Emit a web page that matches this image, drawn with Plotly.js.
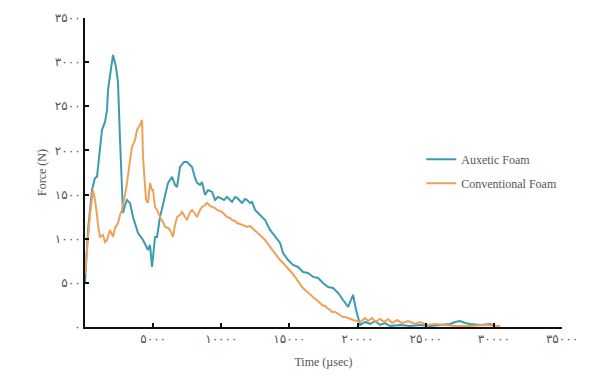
<!DOCTYPE html>
<html>
<head>
<meta charset="utf-8">
<script src="https://cdn.plot.ly/plotly-3.0.1.min.js"></script>
<style>html,body{margin:0;padding:0;background:#fff;}#chart{width:590px;height:376px;}</style>
</head>
<body>
<div id="chart"></div>
<script>
// Auxetic foam (time in µsec, force in N)
const auxeticTime = [0,220,514,734,881,954,1101,1248,1468,1615,1688,1835,2055,2275,2422,2569,2716,2789,2936,3083,3303,3523,3890,4257,4624,4771,4918,5138,5285,5505,5799,6092,6386,6606,6753,6973,7266,7487,7707,7854,8074,8221,8441,8588,8808,9028,9322,9542,9762,9909,10203,10423,10790,11010,11157,11524,11744,11891,12111,12258,12478,12845,13212,13579,13946,14313,14533,14900,15267,15634,16001,16368,16735,17102,17469,17836,18203,18570,18937,19304,19671,19891,20185,20552,20919,21287,21654,22021,22388,23122,23857,24590,25323,26057,26791,27158,27525,27892,28259,28993,29727,30094];
const auxeticForce = [500,1099,1552,1688,1700,1813,2005,2232,2323,2459,2685,2855,3082,2946,2765,2119,1586,1292,1382,1439,1405,1246,1065,986,872,929,680,1020,1020,1246,1439,1632,1700,1609,1586,1813,1870,1870,1835,1813,1688,1632,1609,1643,1496,1552,1530,1439,1473,1462,1439,1473,1416,1473,1462,1405,1450,1439,1405,1416,1326,1269,1212,1099,1020,952,838,759,702,680,623,612,567,555,499,453,442,385,306,227,363,193,23,57,34,68,23,45,11,23,11,23,11,23,34,57,68,45,34,23,34,11];

// Conventional foam
const convTime = [0,220,367,587,734,881,954,1101,1321,1468,1615,1835,2055,2202,2422,2569,2716,2936,3083,3303,3450,3670,3817,4037,4184,4257,4404,4477,4624,4771,4918,4991,5138,5285,5505,5725,5872,6092,6239,6459,6606,6753,6973,7120,7340,7487,7707,7854,8074,8221,8441,8588,8808,8955,9175,9322,9542,9689,9909,10056,10276,10423,10643,10790,11010,11157,11377,11524,11744,11891,12111,12258,12478,12625,12845,12992,13212,13359,13579,13726,13946,14093,14313,14460,14680,14827,15047,15194,15414,15561,15781,15928,16148,16295,16515,16662,16882,17029,17249,17396,17616,17763,17983,18130,18350,18497,18717,18937,19084,19304,19451,19671,19965,20185,20552,20772,21066,21287,21654,21947,22241,22535,22900,23268,23708,24222,24590,25176,25690,26424,27158,28259,29360,30460];
const convForce = [600,986,1269,1552,1439,1269,1156,1020,1042,963,986,1099,1020,1122,1178,1269,1326,1496,1632,1892,2039,2119,2232,2289,2345,1926,1552,1439,1405,1632,1552,1552,1360,1326,1246,1190,1133,1122,1099,1020,1156,1246,1269,1303,1246,1212,1303,1326,1280,1246,1326,1360,1382,1405,1371,1360,1348,1326,1314,1303,1269,1246,1235,1212,1201,1178,1167,1156,1144,1133,1144,1122,1088,1065,1042,1020,986,952,906,872,827,793,759,736,702,668,646,612,567,533,487,453,419,397,363,340,317,306,272,249,238,215,193,170,170,159,136,113,113,102,91,79,68,57,102,68,102,57,91,57,91,45,79,45,68,34,57,23,34,23,11,11,23,11];

const seriesNames = ['Auxetic Foam', 'Conventional Foam'];
const yTickVals = [0,500,1000,1500,2000,2500,3000,3500];
const yTickText = ['۰','۵۰۰','۱۰۰۰','۱۵۰۰','۲۰۰۰','۲۵۰۰','۳۰۰۰','۳۵۰۰'];
const xTickVals = [5000,10000,15000,20000,25000,30000,35000];
const xTickText = ['۵۰۰۰','۱۰۰۰۰','۱۵۰۰۰','۲۰۰۰۰','۲۵۰۰۰','۳۰۰۰۰','۳۵۰۰۰'];

const traces = [
  {x: auxeticTime, y: auxeticForce, name: seriesNames[0], type: 'scatter', mode: 'lines',
   line: {color: '#3d9bb0', width: 2}, legendgroup: 'a'},
  {x: convTime, y: convForce, name: seriesNames[1], type: 'scatter', mode: 'lines',
   line: {color: '#eda257', width: 2}, legendgroup: 'b'}
];

const layout = {
  width: 590, height: 376,
  margin: {l: 85, r: 28, t: 18, b: 49},
  paper_bgcolor: '#ffffff', plot_bgcolor: '#ffffff',
  showlegend: true,
  legend: {x: 0.705, y: 0.59, xanchor: 'left', yanchor: 'top',
    font: {family: 'Liberation Serif', size: 12, color: '#555'},
    bgcolor: 'rgba(0,0,0,0)', traceorder: 'grouped', tracegroupgap: 5, itemwidth: 30},
  xaxis: {
    range: [0, 35000], showgrid: false, zeroline: false,
    showline: true, linecolor: '#111', linewidth: 2,
    ticks: 'inside', ticklen: 4, tickwidth: 2, tickcolor: '#111',
    tickvals: xTickVals, ticktext: xTickText,
    tickfont: {family: 'DejaVu Sans', size: 12, color: '#555'},
    title: {text: 'Time (µsec)', font: {family: 'Liberation Serif', size: 12, color: '#555'}, standoff: 12}
  },
  yaxis: {
    range: [0, 3500], showgrid: false, zeroline: false,
    showline: true, linecolor: '#111', linewidth: 2,
    ticks: 'inside', ticklen: 4, tickwidth: 2, tickcolor: '#111',
    tickvals: yTickVals, ticktext: yTickText,
    tickfont: {family: 'DejaVu Sans', size: 12, color: '#555'},
    title: {text: 'Force (N)', font: {family: 'Liberation Serif', size: 12, color: '#555'}, standoff: 6}
  }
};

Plotly.newPlot('chart', traces, layout, {displayModeBar: false, staticPlot: true});
</script>
</body>
</html>
